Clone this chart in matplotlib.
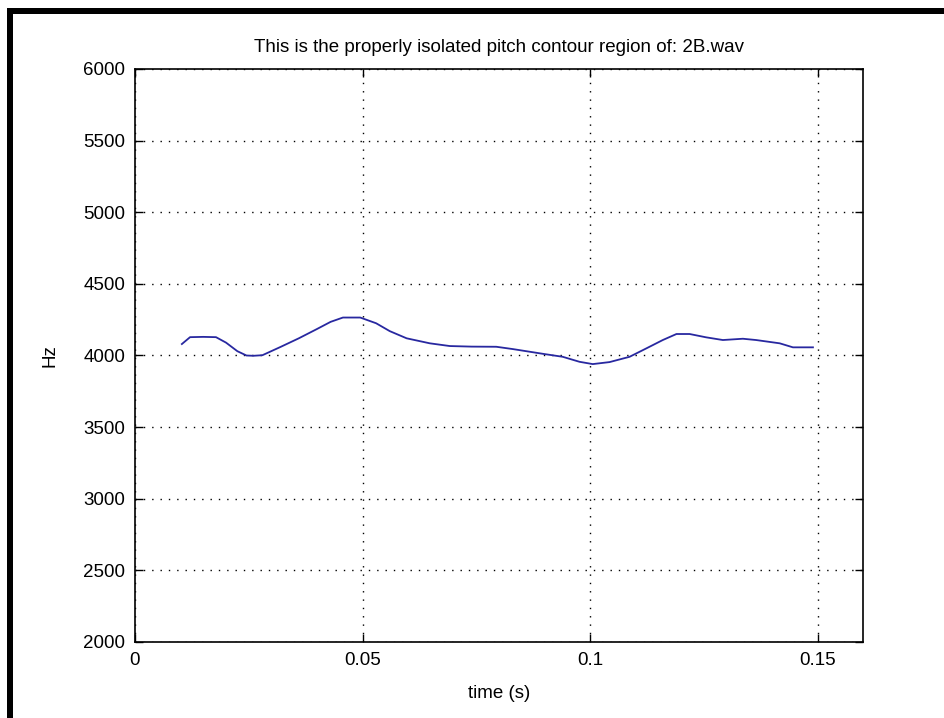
import matplotlib
matplotlib.use("Agg")
import matplotlib.pyplot as plt
from matplotlib.patches import Rectangle

# pitch contour (time in s, frequency in Hz)
t = [0.0103, 0.0121, 0.0150, 0.0178, 0.0200, 0.0225, 0.0245, 0.0260, 0.0280,
     0.0320, 0.0360, 0.0400, 0.0430, 0.0457, 0.0495, 0.0530, 0.0560, 0.0597,
     0.0648, 0.0692, 0.0740, 0.0794, 0.0830, 0.0868, 0.0900, 0.0940, 0.0977,
     0.1006, 0.1043, 0.1087, 0.1124, 0.1160, 0.1190, 0.1219, 0.1255, 0.1292,
     0.1336, 0.1365, 0.1417, 0.1446, 0.1490]
hz = [4080, 4128, 4130, 4128, 4090, 4030, 4000, 3998, 4002,
      4060, 4120, 4185, 4235, 4265, 4265, 4225, 4170, 4120,
      4085, 4066, 4062, 4061, 4045, 4026, 4010, 3991, 3956,
      3940, 3954, 3991, 4050, 4108, 4150, 4150, 4127, 4108,
      4117, 4108, 4085, 4057, 4057]

xticks = [0, 0.05, 0.1, 0.15]
xticklabels = ["0", "0.05", "0.1", "0.15"]
yticks = list(range(2000, 6001, 500))

plt.rcParams['font.family'] = ['Liberation Sans', 'DejaVu Sans']

fig = plt.figure(figsize=(9.44, 7.18), dpi=100)
fig.patch.set_facecolor('white')

# black frame along the top and left edges
fig.add_artist(Rectangle((7/944, 0), 6/944, 1 - 8/718, transform=fig.transFigure,
                         facecolor='black', edgecolor='none'))
fig.add_artist(Rectangle((7/944, 1 - 14/718), 1, 6/718, transform=fig.transFigure,
                         facecolor='black', edgecolor='none'))

ax = fig.add_axes([135/944, 1 - 642/718, 728/944, 573/718])
ax.plot(t, hz, color='#2828a0', linewidth=1.3)

ax.set_xlim(0, 0.16)
ax.set_ylim(2000, 6000)
ax.set_xticks(xticks)
ax.set_xticklabels(xticklabels)
ax.set_yticks(yticks)
ax.grid(True, color='black', linestyle=(0, (1, 5)), linewidth=1.0)
ax.tick_params(direction='in', length=6, width=1, labelsize=13.5,
               top=True, right=True, pad=7)
for s in ax.spines.values():
    s.set_linewidth(1.2)

ax.set_title("This is the properly isolated pitch contour region of: 2B.wav",
             fontsize=13.5, pad=12)
ax.set_xlabel("time (s)", fontsize=13.5, labelpad=12)
ax.set_ylabel("Hz", fontsize=13.5, labelpad=18)

fig.savefig("out.png", dpi=100)
